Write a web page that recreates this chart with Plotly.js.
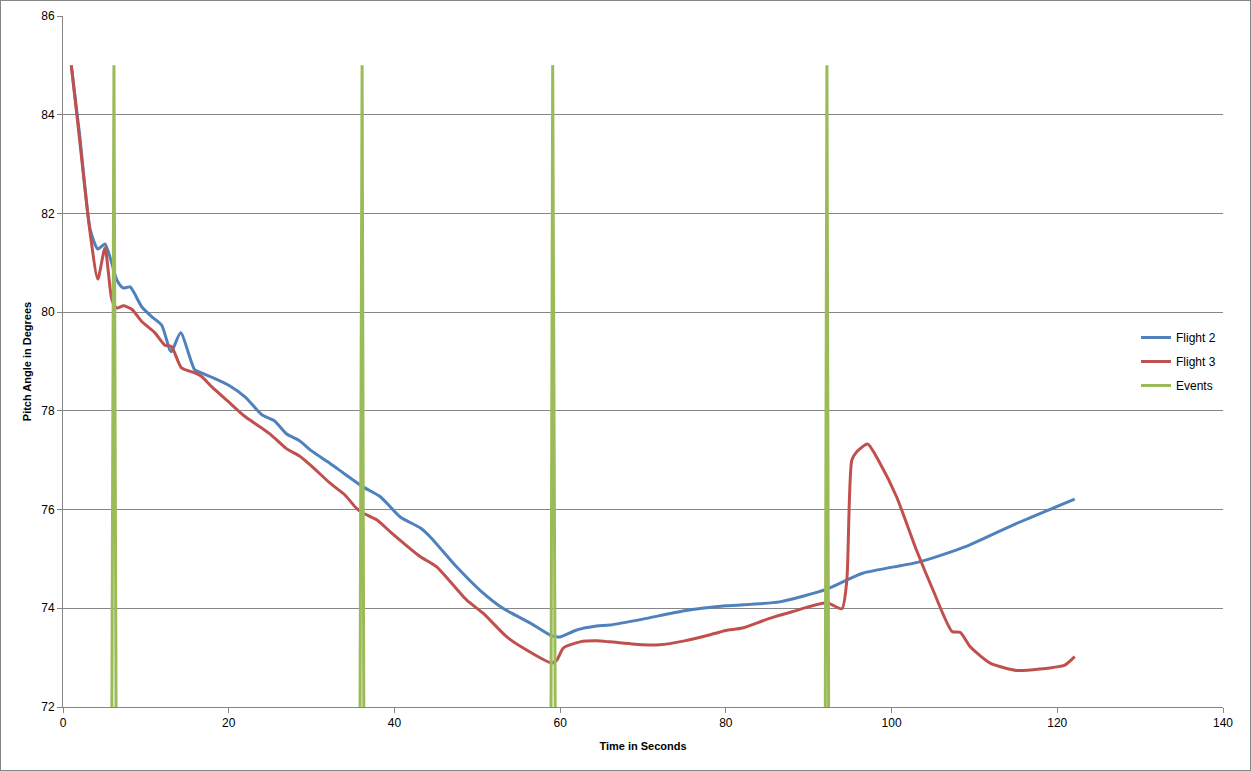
<!DOCTYPE html>
<html>
<head>
<meta charset="utf-8">
<script src="https://cdn.plot.ly/plotly-3.0.1.min.js"></script>
<style>
html,body{margin:0;padding:0;background:#fff;}
#chart{width:1249px;height:769px;border:1px solid #868686;}
</style>
</head>
<body>
<div id="chart"></div>
<script>
// Flight 2 (blue)
const flight2X = [1, 2, 3.3, 4.2, 5.07, 6.5, 7.25, 8.1, 9.5, 10.7, 11.9, 12.9, 13.1, 14.2, 15.9, 16.7, 18, 20, 22, 24, 25.5, 27, 28.5, 30, 32.2, 34, 36.2, 38.3, 40.7, 43.1, 44.3, 47.5, 50.3, 53.1, 56.4, 59.0, 60.0, 62.0, 64.4, 66, 70, 75, 80, 86.5, 92.2, 96.5, 103.4, 109.1, 114.7, 122.1];
const flight2Y = [85, 83.6, 81.66, 81.28, 81.38, 80.65, 80.49, 80.51, 80.11, 79.91, 79.74, 79.23, 79.2, 79.58, 78.83, 78.77, 78.68, 78.52, 78.28, 77.92, 77.8, 77.53, 77.4, 77.19, 76.94, 76.72, 76.46, 76.26, 75.85, 75.63, 75.45, 74.84, 74.37, 74.0, 73.70, 73.44, 73.42, 73.56, 73.64, 73.66, 73.78, 73.95, 74.05, 74.13, 74.39, 74.71, 74.94, 75.26, 75.69, 76.21];

// Flight 3 (red)
const flight3X = [1, 2, 3.2, 4.2, 5.07, 5.9, 6.5, 7.3, 8.3, 9.5, 11.1, 12.3, 13.1, 14.3, 15.9, 16.7, 18, 20, 22, 24, 25, 27, 28.5, 30, 32.2, 34, 35.4, 36.2, 37.9, 39.5, 43.1, 45.1, 48.7, 50.7, 53.5, 55.5, 59.0, 59.6, 60.4, 62.4, 64.4, 66, 70, 72, 75, 78, 80, 82, 85, 88, 92.2, 94.0, 94.6, 95.2, 95.8, 97.1, 98.6, 100.6, 103.0, 105.0, 107.3, 108.3, 109.5, 111.9, 115.1, 117.9, 120.9, 122.1];
const flight3Y = [85, 83.5, 81.7, 80.67, 81.3, 80.25, 80.08, 80.13, 80.06, 79.81, 79.58, 79.33, 79.3, 78.87, 78.77, 78.7, 78.48, 78.18, 77.88, 77.65, 77.53, 77.23, 77.09, 76.88, 76.54, 76.3, 76.03, 75.93, 75.79, 75.55, 75.05, 74.84, 74.17, 73.9, 73.43, 73.2, 72.89, 72.95, 73.2, 73.32, 73.34, 73.32, 73.26, 73.26, 73.34, 73.46, 73.55, 73.6, 73.78, 73.93, 74.11, 73.99, 74.57, 77.0, 77.17, 77.33, 76.94, 76.26, 75.18, 74.37, 73.53, 73.51, 73.22, 72.89, 72.74, 72.77, 72.85, 73.02];

// Events (green spikes)
const eventsX = [5.9, 6.15, 6.4, null, 35.85, 36.1, 36.3, null, 58.9, 59.1, 59.4, null, 92.0, 92.2, 92.4];
const eventsY = [72, 85, 72, null, 72, 85, 72, null, 72, 85, 72, null, 72, 85, 72];

const seriesNames = ["Flight 2", "Flight 3", "Events"];
const yTicks = [72, 74, 76, 78, 80, 82, 84, 86];
const xTicks = [0, 20, 40, 60, 80, 100, 120, 140];

const font = "Liberation Sans, Arial, sans-serif";

const traces = [
  {x: flight2X, y: flight2Y, name: seriesNames[0], legendgroup: "a", mode: "lines",
   line: {color: "#4F81BD", width: 3, shape: "spline", smoothing: 0.6}},
  {x: flight3X, y: flight3Y, name: seriesNames[1], legendgroup: "b", mode: "lines",
   line: {color: "#C0504D", width: 3, shape: "spline", smoothing: 0.6}},
  {x: eventsX, y: eventsY, name: seriesNames[2], legendgroup: "c", mode: "lines", connectgaps: false,
   line: {color: "#9BBB59", width: 3}}
];

const layout = {
  width: 1249, height: 769,
  margin: {l: 62, r: 27, t: 15, b: 63},
  paper_bgcolor: "#fff", plot_bgcolor: "#fff",
  font: {family: font, size: 12, color: "#000"},
  showlegend: true,
  legend: {x: 0.925, y: 0.5, xanchor: "left", yanchor: "middle",
           traceorder: "grouped",
           font: {family: font, size: 12, color: "#000"},
           bgcolor: "rgba(0,0,0,0)", itemwidth: 30, tracegroupgap: 5},
  xaxis: {
    range: [0, 140], tickvals: xTicks, ticktext: xTicks.map(String),
    showgrid: false, zeroline: false,
    showline: true, linecolor: "#868686", linewidth: 1,
    ticks: "outside", ticklen: 5, tickcolor: "#868686",
    tickfont: {family: font, size: 12},
    title: {text: "<b>Time in Seconds</b>", font: {family: font, size: 11}, standoff: 12}
  },
  yaxis: {
    range: [72, 86], tickvals: yTicks, ticktext: yTicks.map(String),
    showgrid: true, gridcolor: "#868686", gridwidth: 1, zeroline: false,
    showline: true, linecolor: "#868686", linewidth: 1,
    ticks: "outside", ticklen: 5, tickcolor: "#868686",
    tickfont: {family: font, size: 12},
    title: {text: "<b>Pitch Angle in Degrees</b>", font: {family: font, size: 11}, standoff: 7}
  }
};

Plotly.newPlot("chart", traces, layout, {displayModeBar: false, staticPlot: true});
</script>
</body>
</html>
